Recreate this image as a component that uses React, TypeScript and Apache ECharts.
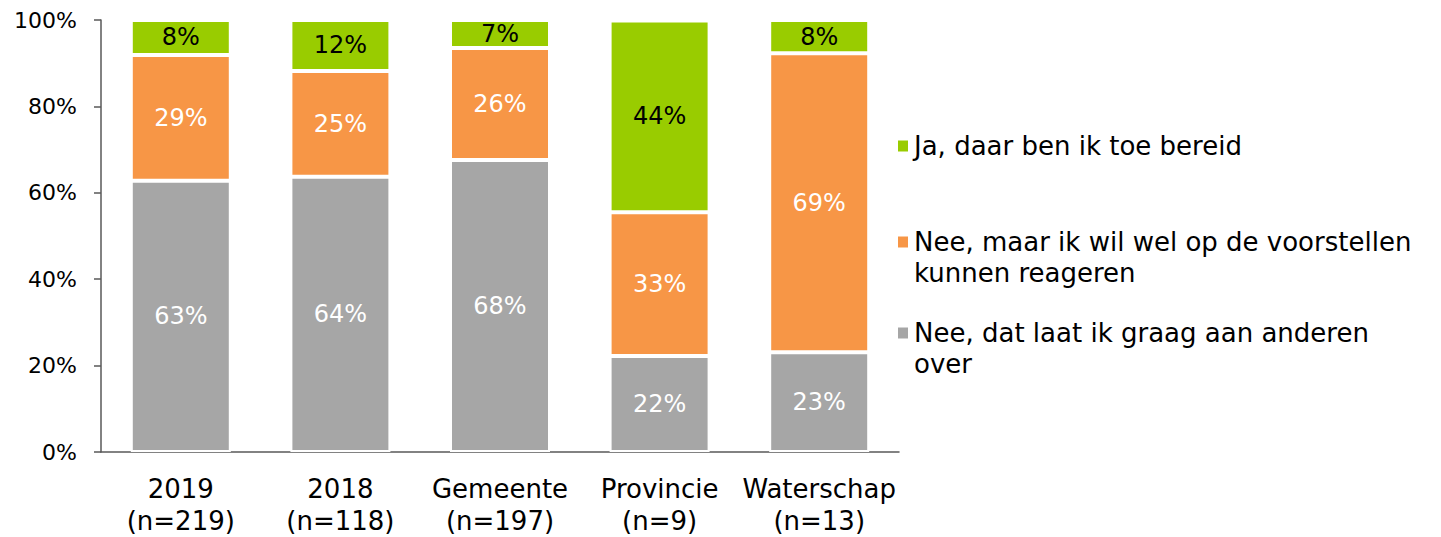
import React, { useEffect, useRef } from "react";
import * as echarts from "echarts";

const categories = ["2019\n(n=219)", "2018\n(n=118)", "Gemeente\n(n=197)", "Provincie\n(n=9)", "Waterschap\n(n=13)"];
const seriesNames = [
  "Nee, dat laat ik graag aan anderen\nover",
  "Nee, maar ik wil wel op de voorstellen\nkunnen reageren",
  "Ja, daar ben ik toe bereid",
];
const valuesNee = [62.8, 63.7, 67.6, 22.2, 23.1];
const valuesReageren = [29.1, 24.5, 25.9, 33.3, 69.2];
const valuesJa = [8.1, 11.8, 6.5, 44.4, 7.7];
const seriesColors = ["#A6A6A6", "#F79646", "#99CC00"];
const labelColors = ["#FFFFFF", "#FFFFFF", "#000000"];
const yTicks = [0, 20, 40, 60, 80, 100];

const FONT = "'DejaVu Sans', Verdana, sans-serif";

export default function App() {
  const ref = useRef<HTMLDivElement>(null);
  useEffect(() => {
    if (!ref.current) return;
    const chart = echarts.init(ref.current, null, { renderer: "svg" });
    const data = [valuesNee, valuesReageren, valuesJa];
    const legendTops = [286.5, 195.5, 130.5];
    chart.setOption({
      animation: false,
      textStyle: { fontFamily: FONT },
      grid: { left: 101, right: 542, top: 20, bottom: 537 - 452, containLabel: false },
      legend: [0, 1, 2].map((i) => ({
        data: [seriesNames[i]],
        orient: "vertical",
        left: 896,
        top: legendTops[i],
        padding: 0,
        itemWidth: 12,
        itemHeight: 13,
        icon: "rect",
        selectedMode: false,
        formatter: (name: string) => (name.indexOf("\n") >= 0 ? "\n" + name : name),
        textStyle: {
          fontFamily: FONT,
          fontSize: 26,
          lineHeight: 31,
          color: "#000",
        },
      })),
      xAxis: {
        type: "category",
        data: categories,
        axisLine: { lineStyle: { color: "#595959", width: 1.5 } },
        axisTick: { show: false },
        axisLabel: {
          color: "#000",
          fontSize: 26,
          lineHeight: 32,
          margin: 21,
          fontFamily: FONT,
          interval: 0,
        },
      },
      yAxis: {
        type: "value",
        min: yTicks[0],
        max: yTicks[yTicks.length - 1],
        interval: 20,
        axisLine: { show: true, lineStyle: { color: "#595959", width: 1.5 } },
        axisTick: { show: true, length: 7, lineStyle: { color: "#595959", width: 1.5 } },
        splitLine: { show: false },
        axisLabel: {
          color: "#000",
          fontSize: 22,
          margin: 24,
          fontFamily: FONT,
          formatter: "{value}%",
        },
      },
      series: [0, 1, 2].map((i) => ({
        name: seriesNames[i],
        type: "bar",
        stack: "total",
        barWidth: 100,
        data: data[i],
        itemStyle: { color: seriesColors[i], borderColor: "#FFFFFF", borderWidth: 2 },
        label: {
          show: true,
          position: "inside",
          color: labelColors[i],
          fontSize: 24,
          fontFamily: FONT,
          formatter: (p: any) => Math.round(p.value) + "%",
        },
      })),
    });
    return () => chart.dispose();
  }, []);
  return (
    <div
      ref={ref}
      style={{ position: "fixed", left: 0, top: 0, width: 1441, height: 537, background: "#fff" }}
    />
  );
}
